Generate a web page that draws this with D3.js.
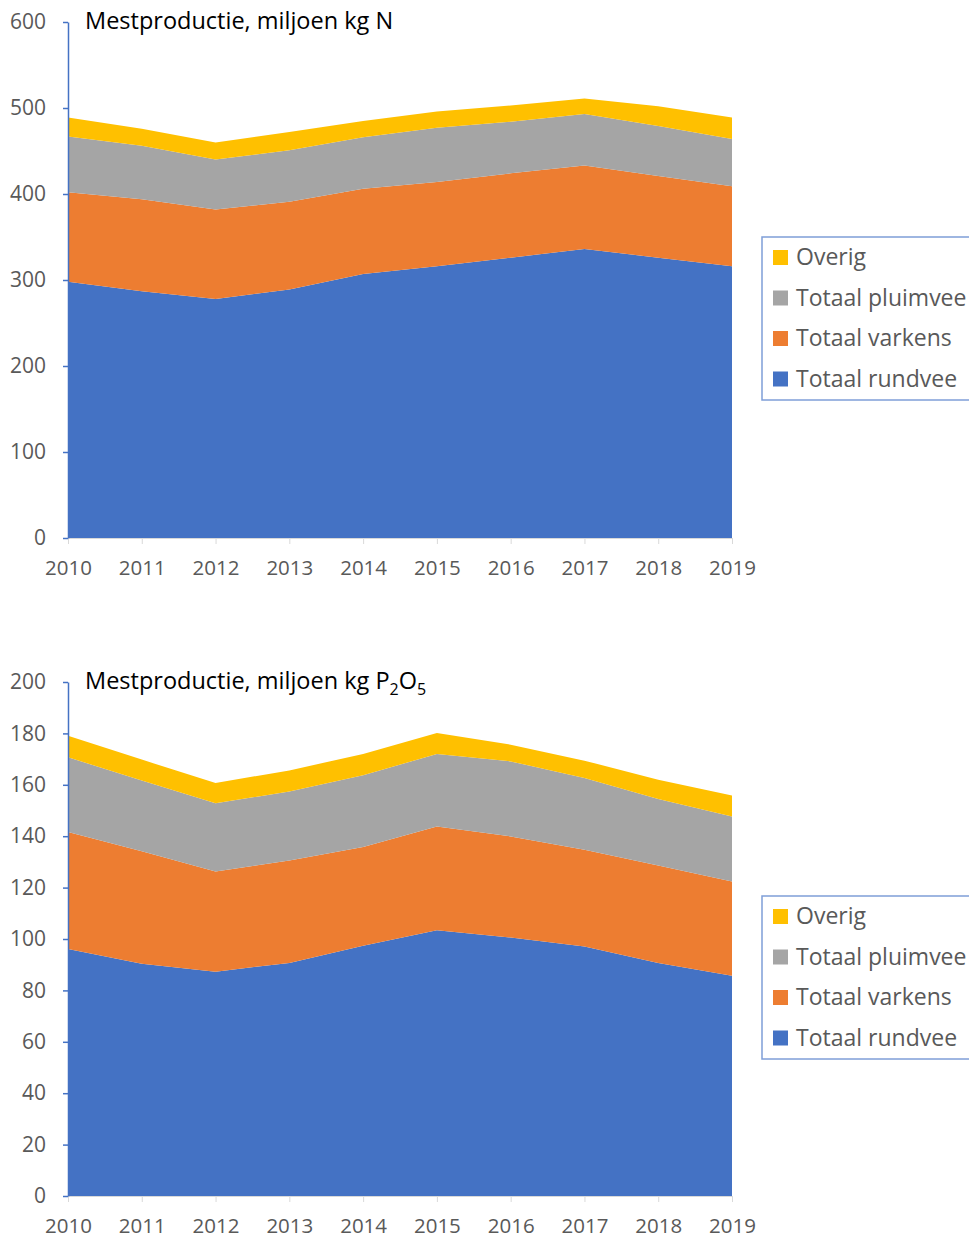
<!DOCTYPE html>
<html>
<head>
<meta charset="utf-8">
<script src="https://cdn.jsdelivr.net/npm/d3@7"></script>
<style>
  body { margin: 0; background: #fff; }
  svg { display: block; }
</style>
</head>
<body>
<div id="chart"></div>
<script>
var years = [2010, 2011, 2012, 2013, 2014, 2015, 2016, 2017, 2018, 2019];
var seriesNames = ["Totaal rundvee", "Totaal varkens", "Totaal pluimvee", "Overig"];
var colors = ["#4472C4", "#ED7D31", "#A5A5A5", "#FFC000"];

// stikstof (N), miljoen kg
var nRundvee  = [298, 287, 278, 289, 307, 316, 326, 336, 326, 316];
var nVarkens  = [104, 107, 104, 102,  99,  98,  98,  97,  95,  93];
var nPluimvee = [ 65,  62,  58,  60,  60,  63,  60,  60,  58,  55];
var nOverig   = [ 22,  20,  20,  21,  19,  19,  19,  18,  23,  25];
var nTicks = [0, 100, 200, 300, 400, 500, 600];

// fosfaat (P2O5), miljoen kg
var pRundvee  = [96.1, 90.4, 87.3, 90.7, 97.4, 103.4, 100.6, 97.1, 90.7, 85.7];
var pVarkens  = [45.5, 43.7, 39.0, 39.8, 38.4, 40.4, 39.3, 37.6, 37.9, 36.7];
var pPluimvee = [29.1, 27.6, 26.5, 26.9, 27.9, 28.2, 29.2, 27.9, 25.9, 25.3];
var pOverig   = [ 8.4,  8.1,  7.9,  8.2,  8.3,  8.2,  6.5,  6.8,  7.5,  8.1];
var pTicks = [0, 20, 40, 60, 80, 100, 120, 140, 160, 180, 200];

var svg = d3.select("#chart")
  .append("svg")
    .attr("width", 969)
    .attr("height", 1240);

function drawChart(opts) {
  var rows = years.map(function(yr, i) {
    return {year: yr, s0: opts.values[0][i], s1: opts.values[1][i], s2: opts.values[2][i], s3: opts.values[3][i]};
  });
  var stack = d3.stack().keys(["s0", "s1", "s2", "s3"]);
  var layers = stack(rows);

  var x = d3.scaleLinear()
    .domain([2010, 2019])
    .range([68, 732]);
  var y = d3.scaleLinear()
    .domain([0, opts.max])
    .range([opts.bottom, opts.top]);

  var area = d3.area()
    .x(function(d) { return x(d.data.year); })
    .y0(function(d) { return y(d[0]); })
    .y1(function(d) { return y(d[1]); });

  var g = svg.append("g");

  g.selectAll("path.layer")
    .data(layers)
    .enter()
    .append("path")
      .attr("class", "layer")
      .attr("d", area)
      .attr("fill", function(d, i) { return colors[i]; });

  // x axis
  var xAxis = g.append("g")
    .attr("transform", "translate(0," + opts.bottom + ")")
    .call(d3.axisBottom(x).tickValues(years).tickFormat(d3.format("d")).tickSize(6).tickSizeOuter(0));
  xAxis.select(".domain").attr("stroke", "#D9D9D9");
  xAxis.selectAll(".tick line").attr("stroke", "#D9D9D9");
  xAxis.selectAll("text")
    .attr("y", 30)
    .attr("dy", "0.35em")
    .style("font-family", "'Open Sans', sans-serif")
    .style("font-size", "20.5px")
    .attr("fill", "#595959");

  // y axis
  var yAxis = g.append("g")
    .attr("transform", "translate(68,0)")
    .call(d3.axisLeft(y).tickValues(opts.ticks).tickSize(5).tickSizeOuter(0));
  yAxis.select(".domain").attr("stroke", "#4472C4").attr("stroke-width", 1.5);
  yAxis.selectAll(".tick line").attr("stroke", "#4472C4").attr("stroke-width", 1.5);
  yAxis.selectAll("text")
    .attr("x", -22)
    .style("font-family", "'Open Sans', sans-serif")
    .style("font-size", "21px")
    .attr("fill", "#595959");

  // title
  var title = g.append("text")
    .attr("x", 85)
    .attr("y", opts.top + 7)
    .style("font-family", "'Open Sans', sans-serif")
    .style("font-size", "23.5px")
    .attr("fill", "#000");
  opts.title.forEach(function(part) {
    var t = title.append("tspan").text(part.text);
    if (part.sub) {
      t.attr("dy", 6).style("font-size", "16px");
    } else if (part.after) {
      t.attr("dy", -6);
    }
  });

  // legend
  var lg = g.append("g").attr("transform", "translate(762," + opts.legendTop + ")");
  lg.append("rect")
    .attr("x", 0)
    .attr("y", 0)
    .attr("width", 240)
    .attr("height", 163)
    .attr("fill", "#fff")
    .attr("stroke", "#7F9ED8")
    .attr("stroke-width", 1.5);
  var order = [3, 2, 1, 0];
  order.forEach(function(si, k) {
    var cy = 20 + k * 40.5;
    lg.append("rect")
      .attr("x", 11)
      .attr("y", cy - 7)
      .attr("width", 15)
      .attr("height", 15)
      .attr("fill", colors[si]);
    lg.append("text")
      .attr("x", 34)
      .attr("y", cy)
      .attr("dy", "0.36em")
      .style("font-family", "'Open Sans', sans-serif")
      .style("font-size", "23px")
      .attr("fill", "#595959")
      .text(seriesNames[si]);
  });
}

drawChart({
  values: [nRundvee, nVarkens, nPluimvee, nOverig],
  max: 600,
  ticks: nTicks,
  top: 22,
  bottom: 538,
  legendTop: 237,
  title: [{text: "Mestproductie, miljoen kg N"}]
});

drawChart({
  values: [pRundvee, pVarkens, pPluimvee, pOverig],
  max: 200,
  ticks: pTicks,
  top: 682,
  bottom: 1196,
  legendTop: 896,
  title: [{text: "Mestproductie, miljoen kg P"}, {text: "2", sub: true}, {text: "O", after: true}, {text: "5", sub: true}]
});
</script>
</body>
</html>
